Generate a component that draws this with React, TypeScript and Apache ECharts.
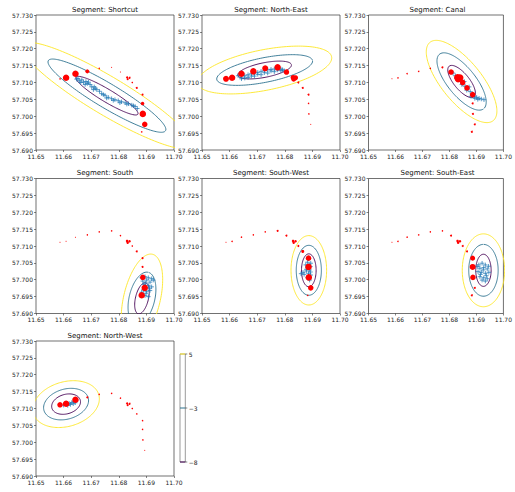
import React, { useEffect, useRef } from "react";
import * as echarts from "echarts";

// ---------- data ----------
const segmentNames = ["Shortcut", "North-East", "Canal", "South", "South-West", "South-East", "North-West"];

const xTickStep = 0.01;
const yTickStep = 0.005;
const xRange = [11.65, 11.70];
const yRange = [57.69, 57.73];

const contourLevels = [-8, -3, 5];
const contourColors = ["#440154", "#2c728e", "#fde725"];
const colorbarLabels = ["\u22128", "\u22123", "5"];

// red route points (shared by all panels)
const routeLon = [11.6587, 11.6609, 11.6643, 11.6686, 11.6729, 11.6774, 11.6806, 11.6830, 11.6832, 11.6839, 11.6849, 11.6865, 11.6886, 11.6886, 11.6887, 11.6894, 11.6883];
const routeLat = [57.7111, 57.7114, 57.7126, 57.7133, 57.7142, 57.7145, 57.7131, 57.7115, 57.7110, 57.7114, 57.7100, 57.7084, 57.7064, 57.7038, 57.7007, 57.6976, 57.6954];

// marker diameters of the route points in each panel
const shortcutSizes = [1.5, 6.5, 6.5, 4, 1.5, 1, 1, 2, 2, 2, 1.5, 2, 2, 3.5, 6.5, 5.5, 1.5];
const northEastSizes = [6, 6.5, 6.5, 6.5, 6, 6.5, 5.5, 5, 5, 5, 2, 2, 2, 1.5, 1.5, 1, 0];
const canalSizes = [1, 1.5, 1.5, 1.5, 1.5, 2, 5.5, 7, 6.5, 7, 5.5, 5.5, 5.5, 2, 2, 2, 2];
const southSizes = [1, 1, 1, 1.5, 1.5, 1.5, 1.5, 2.5, 2.5, 2.5, 1.5, 2, 2, 2, 5.5, 6.5, 6.5];
const southWestSizes = [1, 1.5, 1.5, 1.5, 1.5, 2, 2, 2.5, 2.5, 2.5, 2, 3, 5.5, 6.5, 6.5, 5.5, 1.5];
const southEastSizes = [1, 1.5, 1.5, 1.5, 1.5, 1.5, 2, 2.5, 2.5, 2.5, 2, 2, 5, 6, 5.5, 2, 2];
const northWestSizes = [5.5, 6.5, 6.5, 2, 1.5, 1.5, 1.5, 2, 2, 2, 1.5, 1.5, 1.5, 1.5, 1.5, 1, 0];

// blue GPS samples of each segment [lon, lat]
const shortcutBlue = [[11.6647,57.7110],[11.6657,57.7105],[11.6666,57.7108],[11.6672,57.7101],[11.6681,57.7103],[11.6686,57.7097],[11.6696,57.7094],[11.6702,57.7087],[11.6711,57.7087],[11.6720,57.7079],[11.6730,57.7074],[11.6738,57.7067],[11.6750,57.7062],[11.6762,57.7056],[11.6774,57.7052],[11.6786,57.7049],[11.6798,57.7046],[11.6810,57.7043],[11.6823,57.7040],[11.6835,57.7037],[11.6847,57.7033],[11.6859,57.7029],[11.6867,57.7023],[11.6678,57.7094],[11.6708,57.7079],[11.6756,57.7054],[11.6804,57.7040],[11.6652,57.7112],[11.6662,57.7100],[11.6690,57.7101],[11.6715,57.7083],[11.6744,57.7064],[11.6780,57.7047],[11.6829,57.7036],[11.6853,57.7031]];
const northEastBlue = [[11.6631,57.7120],[11.6643,57.7116],[11.6655,57.7120],[11.6667,57.7123],[11.6679,57.7126],[11.6690,57.7128],[11.6702,57.7130],[11.6714,57.7133],[11.6726,57.7135],[11.6738,57.7138],[11.6750,57.7139],[11.6762,57.7140],[11.6774,57.7141],[11.6786,57.7140],[11.6798,57.7135],[11.6643,57.7111],[11.6667,57.7115],[11.6690,57.7119],[11.6714,57.7123],[11.6738,57.7128],[11.6762,57.7132],[11.6786,57.7135],[11.6655,57.7113],[11.6679,57.7119],[11.6702,57.7124],[11.6726,57.7129],[11.6750,57.7134],[11.6774,57.7137],[11.6792,57.7138]];
const canalBlue = [[11.6813,57.7128],[11.6822,57.7120],[11.6831,57.7110],[11.6841,57.7103],[11.6849,57.7097],[11.6858,57.7089],[11.6867,57.7081],[11.6877,57.7073],[11.6886,57.7066],[11.6892,57.7059],[11.6901,57.7056],[11.6910,57.7053],[11.6918,57.7051],[11.6928,57.7049],[11.6837,57.7116],[11.6855,57.7103],[11.6873,57.7087],[11.6880,57.7059],[11.6894,57.7053],[11.6826,57.7112],[11.6846,57.7094],[11.6864,57.7077],[11.6884,57.7062],[11.6905,57.7050]];
const southBlue = [[11.6883,57.7006],[11.6895,57.7009],[11.6907,57.7006],[11.6919,57.7003],[11.6887,57.6996],[11.6901,57.6999],[11.6913,57.6993],[11.6925,57.6999],[11.6891,57.6986],[11.6907,57.6983],[11.6919,57.6979],[11.6889,57.6970],[11.6901,57.6966],[11.6913,57.6968],[11.6895,57.6953],[11.6907,57.6950],[11.6883,57.6963],[11.6897,57.6990],[11.6911,57.6975],[11.6899,57.6960]];
const southWestBlue = [[11.6882,57.7052],[11.6888,57.7044],[11.6882,57.7036],[11.6890,57.7029],[11.6878,57.7026],[11.6866,57.7022],[11.6859,57.7018],[11.6870,57.7016],[11.6886,57.7019],[11.6894,57.7014],[11.6882,57.7006],[11.6890,57.6999],[11.6894,57.7049],[11.6876,57.7044],[11.6886,57.7010],[11.6893,57.7039],[11.6878,57.7031],[11.6893,57.7023]];
const southEastBlue = [[11.6909,57.7044],[11.6921,57.7049],[11.6933,57.7044],[11.6913,57.7034],[11.6927,57.7036],[11.6940,57.7032],[11.6906,57.7024],[11.6918,57.7022],[11.6933,57.7019],[11.6946,57.7022],[11.6913,57.7009],[11.6927,57.7006],[11.6940,57.7003],[11.6921,57.6999],[11.6933,57.6996],[11.6903,57.7039],[11.6925,57.7029],[11.6937,57.7012],[11.6915,57.7016],[11.6945,57.7040]];
const northWestBlue = [[11.6600,57.7110],[11.6610,57.7113],[11.6620,57.7115],[11.6630,57.7118],[11.6638,57.7121],[11.6645,57.7124],[11.6615,57.7109],[11.6625,57.7112],[11.6635,57.7114],[11.6642,57.7117]];

// fitted Gaussian contours: centre [lon, lat], tilt (deg), semi-axes per level (fraction of axis span)
const shortcutEllipse = { center: [11.6757, 57.7061], angle: -31.5, axes: [[0.263, 0.047], [0.498, 0.09], [0.72, 0.14]] };
const northEastEllipse = { center: [11.6727, 57.7137], angle: 11.5, axes: [[0.198, 0.054], [0.354, 0.091], [0.495, 0.15]] };
const canalEllipse = { center: [11.6845, 57.7103], angle: -51, axes: [[0.146, 0.058], [0.26, 0.104], [0.373, 0.149]] };
const southEllipse = { center: [11.6884, 57.6945], angle: 77, axes: [[0.118, 0.047], [0.198, 0.093], [0.335, 0.133]] };
const southWestEllipse = { center: [11.6887, 57.7028], angle: 90, axes: [[0.122, 0.053], [0.185, 0.091], [0.257, 0.129]] };
const southEastEllipse = { center: [11.6926, 57.7028], angle: 90, axes: [[0.119, 0.057], [0.192, 0.109], [0.27, 0.157]] };
const northWestEllipse = { center: [11.6609, 57.7113], angle: 17, axes: [[0.107, 0.072], [0.167, 0.111], [0.247, 0.165]] };

const panelSizes = [shortcutSizes, northEastSizes, canalSizes, southSizes, southWestSizes, southEastSizes, northWestSizes];
const panelBlue = [shortcutBlue, northEastBlue, canalBlue, southBlue, southWestBlue, southEastBlue, northWestBlue];
const panelEllipse = [shortcutEllipse, northEastEllipse, canalEllipse, southEllipse, southWestEllipse, southEastEllipse, northWestEllipse];

// ---------- helpers ----------
function ellipsePoints(e: { center: number[]; angle: number; axes: number[][] }, level: number) {
  const [a, b] = e.axes[level];
  const spanX = xRange[1] - xRange[0];
  const spanY = yRange[1] - yRange[0];
  const cx = (e.center[0] - xRange[0]) / spanX;
  const cy = (e.center[1] - yRange[0]) / spanY;
  const th = (e.angle * Math.PI) / 180;
  const pts: number[][] = [];
  const n = 160;
  for (let i = 0; i <= n; i++) {
    const t = (2 * Math.PI * i) / n;
    const fx = cx + a * Math.cos(t) * Math.cos(th) - b * Math.sin(t) * Math.sin(th);
    const fy = cy + a * Math.cos(t) * Math.sin(th) + b * Math.sin(t) * Math.cos(th);
    pts.push([xRange[0] + fx * spanX, yRange[0] + fy * spanY]);
  }
  return pts;
}

const FONT = "DejaVu Sans, Liberation Sans, sans-serif";

export default function App() {
  const ref = useRef<HTMLDivElement>(null);
  useEffect(() => {
    if (!ref.current) return;
    const chart = echarts.init(ref.current, undefined, { renderer: "svg" });

    const colLeft = [36, 202, 368.5];
    const rowTop = [15, 178.5, 341];
    const W = 138;
    const H = 135;

    const grids: any[] = [];
    const xAxes: any[] = [];
    const yAxes: any[] = [];
    const series: any[] = [];
    const graphics: any[] = [];

    segmentNames.forEach((name, i) => {
      const r = Math.floor(i / 3);
      const c = i % 3;
      const left = colLeft[c];
      const top = rowTop[r];
      grids.push({ left, top, width: W, height: H, show: true, borderColor: "#333", borderWidth: 0.7, backgroundColor: "transparent", containLabel: false });
      xAxes.push({
        type: "value", gridIndex: i, min: xRange[0], max: xRange[1], interval: xTickStep,
        axisLine: { show: false }, splitLine: { show: false },
        axisTick: { show: true, length: 2, lineStyle: { color: "#333", width: 0.6 } },
        axisLabel: { show: true, fontSize: 6, fontFamily: FONT, color: "#222", margin: 3, showMinLabel: true, showMaxLabel: true, formatter: (v: number) => v.toFixed(2) },
      });
      yAxes.push({
        type: "value", gridIndex: i, min: yRange[0], max: yRange[1], interval: yTickStep,
        axisLine: { show: false }, splitLine: { show: false },
        axisTick: { show: true, length: 2, lineStyle: { color: "#333", width: 0.6 } },
        axisLabel: { show: true, fontSize: 6, fontFamily: FONT, color: "#222", margin: 3, showMinLabel: true, showMaxLabel: true, formatter: (v: number) => v.toFixed(3) },
      });
      contourLevels.forEach((_, li) => {
        series.push({
          type: "line", xAxisIndex: i, yAxisIndex: i, data: ellipsePoints(panelEllipse[i], li),
          showSymbol: false, symbol: "none", smooth: false, clip: true, silent: true,
          lineStyle: { color: contourColors[li], width: 0.9 }, z: 2,
        });
      });
      series.push({
        type: "scatter", xAxisIndex: i, yAxisIndex: i, data: panelBlue[i],
        symbol: "path://M5,0V10M0,5H10", symbolSize: 4.5, silent: true,
        itemStyle: { color: "transparent", borderColor: "#1f77b4", borderWidth: 0.9 }, z: 3,
      });
      const reds = routeLon.map((lon, k) => ({ value: [lon, routeLat[k]], symbolSize: panelSizes[i][k] }))
        .filter((d) => d.symbolSize > 0);
      series.push({
        type: "scatter", xAxisIndex: i, yAxisIndex: i, data: reds, symbol: "circle", silent: true,
        itemStyle: { color: "#ff0000", opacity: 1 }, z: 4,
      });
      graphics.push({
        type: "text", x: left + W / 2, y: top - 5.5, silent: true,
        style: { text: "Segment: " + name, font: `7px ${FONT}`, fill: "#111", textAlign: "center", textVerticalAlign: "middle", align: "center", verticalAlign: "middle" },
      });
    });

    // colorbar
    const cbX = 180, cbTop = 354, cbBottom = 462, cbW = 5.3;
    graphics.push({ type: "rect", silent: true, shape: { x: cbX, y: cbTop, width: cbW, height: cbBottom - cbTop }, style: { fill: "#fff", stroke: "#555", lineWidth: 0.6 } });
    contourLevels.forEach((_, li) => {
      const y = cbBottom - (li / (contourLevels.length - 1)) * (cbBottom - cbTop);
      graphics.push({ type: "line", silent: true, shape: { x1: cbX, y1: y, x2: cbX + cbW, y2: y }, style: { stroke: contourColors[li], lineWidth: 1 } });
      graphics.push({ type: "line", silent: true, shape: { x1: cbX + cbW, y1: y, x2: cbX + cbW + 2, y2: y }, style: { stroke: "#333", lineWidth: 0.6 } });
      graphics.push({
        type: "text", silent: true, x: cbX + cbW + 3.5, y,
        style: { text: colorbarLabels[li], font: `6px ${FONT}`, fill: "#222", textAlign: "left", textVerticalAlign: "middle", align: "left", verticalAlign: "middle" },
      });
    });

    chart.setOption({
      animation: false,
      backgroundColor: "#ffffff",
      grid: grids,
      xAxis: xAxes,
      yAxis: yAxes,
      series,
      graphic: { elements: graphics },
    });
    return () => chart.dispose();
  }, []);
  return <div ref={ref} style={{ position: "absolute", left: 0, top: 0, width: 515, height: 492 }} />;
}
